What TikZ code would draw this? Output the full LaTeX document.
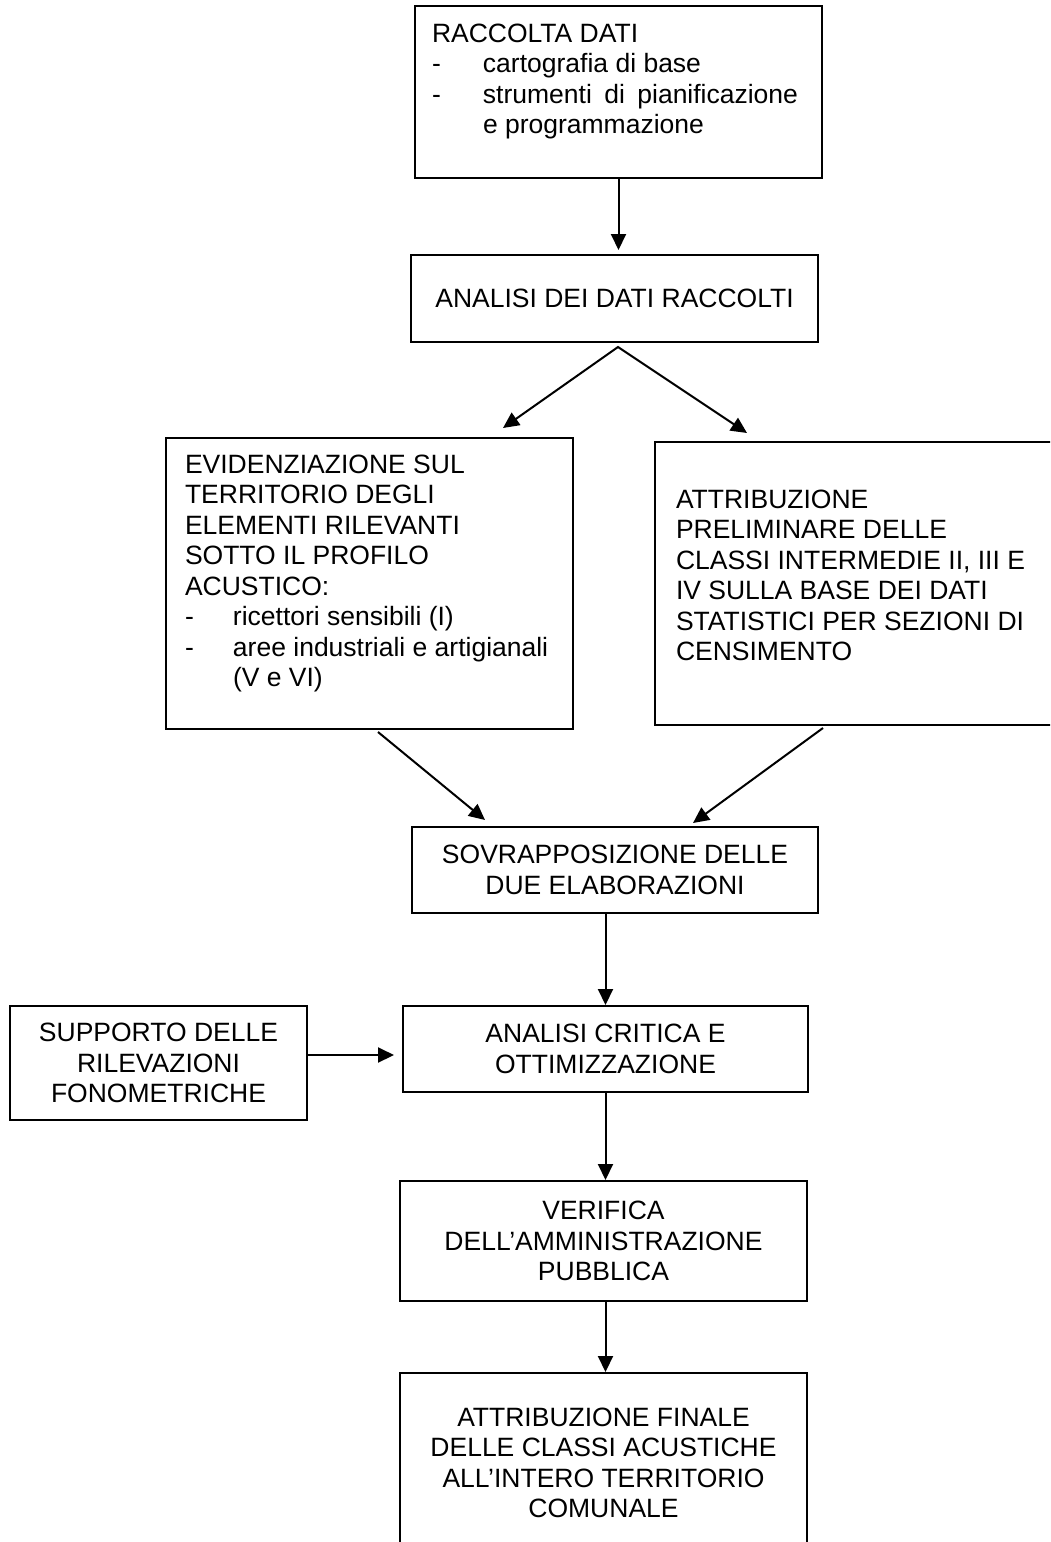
\documentclass[tikz,border=0pt]{standalone}
\usepackage{fontspec}
\setmainfont{Liberation Sans}
\usetikzlibrary{arrows.meta,calc}
\tikzset{
  box/.style={draw, line width=2pt, inner sep=0pt, anchor=north west, font=\fontsize{26.5}{30.5}\selectfont},
  cbox/.style={box, align=center},
  arr/.style={line width=2pt, -{Triangle[length=16pt,width=15pt]}},
  arrtwo/.style={line width=2pt, {Triangle[length=16pt,width=15pt]}-{Triangle[length=16pt,width=15pt]}}
}
\begin{document}
\begin{tikzpicture}[x=1pt,y=-1pt]
\useasboundingbox (0,0) rectangle (1050,1542);
\clip (0,0) rectangle (1050,1542);
\node[box] (raccolta) at (414,5) {\parbox[c][172pt][t]{407pt}{\raggedright\leftskip=17pt\relax
\rule{0pt}{36pt}RACCOLTA DATI\\
\makebox[51pt][l]{-}cartografia di base\\
\makebox[51pt][l]{-}\makebox[315pt][s]{strumenti di pianificazione}\\
\hspace*{51pt}e programmazione}};
\node[cbox, minimum width=407pt, minimum height=87pt] (analisi) at (410,254) {ANALISI DEI DATI RACCOLTI};
\node[box] (evid) at (165,437) {\parbox[c][291pt][t]{407pt}{\raggedright\leftskip=19pt\relax
\rule{0pt}{35pt}EVIDENZIAZIONE SUL\\
TERRITORIO DEGLI\\
ELEMENTI RILEVANTI\\
SOTTO IL PROFILO\\
ACUSTICO:\\
\makebox[48pt][l]{-}ricettori sensibili (I)\\
\makebox[48pt][l]{-}aree industriali e artigianali\\
\hspace*{48pt}(V e VI)}};
\node[box] (attr) at (654,441) {\parbox[c][283pt][t]{407pt}{\raggedright\leftskip=21pt\relax
\rule{0pt}{66pt}ATTRIBUZIONE\\
PRELIMINARE DELLE\\
CLASSI INTERMEDIE II, III E\\
IV SULLA BASE DEI DATI\\
STATISTICI PER SEZIONI DI\\
CENSIMENTO}};
\node[cbox, minimum width=406pt, minimum height=86pt] (sovr) at (411,826) {SOVRAPPOSIZIONE DELLE\\DUE ELABORAZIONI};
\node[cbox, minimum width=297pt, minimum height=114pt] (supporto) at (9,1005) {SUPPORTO DELLE\\RILEVAZIONI\\FONOMETRICHE};
\node[cbox, minimum width=405pt, minimum height=86pt] (critica) at (402,1005) {ANALISI CRITICA E\\OTTIMIZZAZIONE};
\node[cbox, minimum width=407pt, minimum height=120pt] (verifica) at (399,1180) {VERIFICA\\DELL’AMMINISTRAZIONE\\PUBBLICA};
\node[cbox, minimum width=407pt, minimum height=180pt] (finale) at (399,1372) {ATTRIBUZIONE FINALE\\DELLE CLASSI ACUSTICHE\\ALL’INTERO TERRITORIO\\COMUNALE};
\coordinate (split) at ($(analisi.south)+(3.5,4)$);
\draw[arr, shorten >=4pt] (raccolta.south) -- (raccolta.south |- analisi.north);
\draw[arrtwo] ($(evid.north west)+(338,-9)$) -- (split) -- ($(attr.north west)+(93,-8)$);
\draw[arr] ($(evid.south west)+(213,2)$) -- ($(sovr.north west)+(74,-6)$);
\draw[arr] ($(attr.south west)+(169,2)$) -- ($(sovr.north west)+(282,-3)$);
\draw[arr] (sovr.south -| critica.north) -- (critica.north);
\draw[arr, shorten >=8pt] ($(supporto.north east)+(0,50)$) -- ($(critica.north west)+(0,50)$);
\draw[arr] (critica.south) -- (critica.south |- verifica.north);
\draw[arr] (critica.south |- verifica.south) -- (critica.south |- finale.north);
\end{tikzpicture}
\end{document}
